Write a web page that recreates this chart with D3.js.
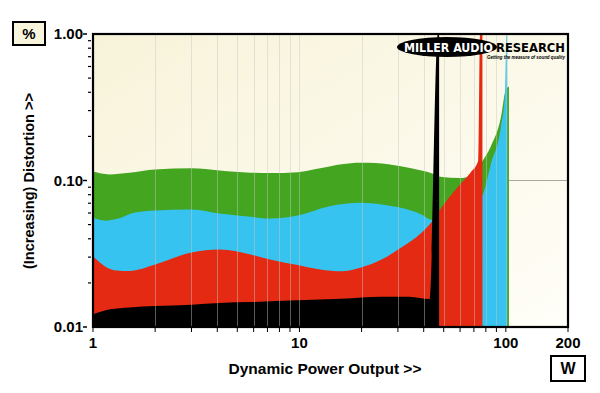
<!DOCTYPE html>
<html>
<head>
<meta charset="utf-8">
<script src="https://cdn.jsdelivr.net/npm/d3@7"></script>
<style>
  html, body { margin: 0; padding: 0; background: #fff; }
  svg { display: block; font-family: "Liberation Sans", Arial, sans-serif; }
</style>
</head>
<body>
<svg id="chart" width="600" height="393"></svg>
<script>
// distortion (%) vs dynamic power output (W), one curve per load; each ends in a clipping spike
var greenPts = [[1,0.115],[1.2,0.110],[1.5,0.113],[2,0.119],[3,0.121],[4.1,0.117],[5.8,0.113],[7.2,0.1125],
  [9.8,0.114],[12.6,0.121],[16,0.129],[19.7,0.132],[23.4,0.1316],[31,0.125],[39,0.117],[44,0.1116],[48,0.106],
  [60,0.104],[67.5,0.107],[72,0.115],[76.5,0.133],[84.6,0.171],[94.6,0.269],[100,0.418],[103.5,0.438]];
var bluePts = [[1,0.0556],[1.15,0.0532],[1.3,0.0545],[1.6,0.0605],[2,0.0624],[3,0.0634],[4.1,0.0595],[5.8,0.0565],
  [7.2,0.055],[9.8,0.0577],[14,0.0668],[19.7,0.0704],[25,0.0686],[31,0.0651],[39,0.0586],[44,0.0538],[48,0.0559],
  [60,0.0634],[70,0.0742],[76.5,0.0778],[84.6,0.129],[94.6,0.23],[99,0.386],[100.6,1.0],[101.6,1.0]];
var redPts = [[1,0.0304],[1.15,0.0258],[1.3,0.0243],[1.5,0.0241],[2,0.0267],[3,0.0323],[4.1,0.0338],[5.8,0.0313],
  [7.2,0.0289],[9.8,0.0265],[12.6,0.0247],[16,0.024],[19.7,0.0254],[25,0.0289],[31,0.0347],[39,0.044],[44,0.0527],
  [48,0.0634],[60,0.0939],[67.5,0.1134],[73.5,0.137],[75,1.0],[77,1.0]];
var blackPts = [[1,0.0122],[1.21,0.0132],[1.5,0.0136],[2,0.0139],[3,0.0142],[4.1,0.0146],[5.8,0.0148],[9.8,0.0152],
  [16,0.0156],[25,0.0161],[34,0.0161],[42.7,0.0155],[46.8,1.0],[47.5,1.0]];

var xTicks = [1, 10, 100, 200];
var xTickLabels = ["1", "10", "100", "200"];
var xMinor = [2,3,4,5,6,7,8,9,20,30,40,50,60,70,80,90];
var yTicks = [0.01, 0.1, 1];
var yTickLabels = ["0.01", "0.10", "1.00"];
var yMinor = [0.02,0.03,0.04,0.05,0.06,0.07,0.08,0.09,0.2,0.3,0.4,0.5,0.6,0.7,0.8,0.9];

var series = [
  { pts: greenPts, color: "#44a521" },
  { pts: bluePts, color: "#37c3ef" },
  { pts: redPts, color: "#e42a12" },
  { pts: blackPts, color: "#000000" }
];

var L = 93, R = 568, T = 34, B = 327;
var x = d3.scaleLog().domain([1, 200]).range([L, R]);
var y = d3.scaleLog().domain([0.01, 1]).range([B, T]);

var svg = d3.select("#chart");
var defs = svg.append("defs");
var grad = defs.append("linearGradient").attr("id", "bg")
  .attr("x1", 0).attr("y1", 0).attr("x2", 1).attr("y2", 1);
grad.append("stop").attr("offset", "0%").attr("stop-color", "#f7f3d9");
grad.append("stop").attr("offset", "100%").attr("stop-color", "#fffef8");
defs.append("clipPath").attr("id", "plotclip").append("rect")
  .attr("x", L).attr("y", T).attr("width", R - L).attr("height", B - T);

svg.append("rect").attr("x", L).attr("y", T).attr("width", R - L).attr("height", B - T)
  .attr("fill", "url(#bg)");

// horizontal grid at 0.10 (behind the fills)
svg.append("line").attr("x1", L).attr("x2", R).attr("y1", y(0.1)).attr("y2", y(0.1))
  .attr("stroke", "#a8a8a0").attr("stroke-width", 1.2);

var area = d3.area()
  .x(function (d) { return x(d[0]); })
  .y0(B)
  .y1(function (d) { return y(d[1]); })
  .curve(d3.curveMonotoneX);

var plot = svg.append("g").attr("clip-path", "url(#plotclip)");
series.forEach(function (s) {
  plot.append("path").attr("d", area(s.pts)).attr("fill", s.color);
});

// vertical grid, drawn over the fills
plot.selectAll("line.vg").data(xMinor.concat([10, 100])).enter().append("line")
  .attr("class", "vg")
  .attr("x1", function (d) { return Math.round(x(d)) + 0.5; })
  .attr("x2", function (d) { return Math.round(x(d)) + 0.5; })
  .attr("y1", T).attr("y2", B)
  .attr("stroke", "rgba(200,200,195,0.45)").attr("stroke-width", 1);

// frame
svg.append("rect").attr("x", L).attr("y", T).attr("width", R - L).attr("height", B - T)
  .attr("fill", "none").attr("stroke", "#000").attr("stroke-width", 2.2);

// x axis ticks and labels
svg.selectAll("line.xt").data(xMinor.concat(xTicks)).enter().append("line")
  .attr("x1", function (d) { return x(d); }).attr("x2", function (d) { return x(d); })
  .attr("y1", B + 1).attr("y2", B + 5)
  .attr("stroke", "#000").attr("stroke-width", 1);
svg.selectAll("text.xl").data(xTicks).enter().append("text")
  .attr("x", function (d) { return x(d); }).attr("y", B + 21)
  .attr("text-anchor", "middle").attr("font-size", 15).attr("font-weight", "bold")
  .text(function (d, i) { return xTickLabels[i]; });

// y axis ticks and labels
svg.selectAll("line.ym").data(yMinor).enter().append("line")
  .attr("x1", L - 5).attr("x2", L - 2)
  .attr("y1", function (d) { return y(d); }).attr("y2", function (d) { return y(d); })
  .attr("stroke", "#000").attr("stroke-width", 1.2);
svg.selectAll("line.yt").data(yTicks).enter().append("line")
  .attr("x1", L - 10).attr("x2", L - 6)
  .attr("y1", function (d) { return y(d); }).attr("y2", function (d) { return y(d); })
  .attr("stroke", "#000").attr("stroke-width", 1.5);
svg.selectAll("text.yl").data(yTicks).enter().append("text")
  .attr("x", L - 10).attr("y", function (d) { return y(d) + 5; })
  .attr("text-anchor", "end").attr("font-size", 15).attr("font-weight", "bold")
  .text(function (d, i) { return yTickLabels[i]; });

// axis titles
svg.append("text").attr("x", 325).attr("y", 374).attr("text-anchor", "middle")
  .attr("font-size", 15.5).attr("font-weight", "bold").text("Dynamic Power Output >>");
svg.append("text").attr("transform", "translate(34,181) rotate(-90)").attr("text-anchor", "middle")
  .attr("font-size", 15.5).attr("font-weight", "bold")
  .attr("textLength", 176).attr("lengthAdjust", "spacingAndGlyphs").text("(Increasing) Distortion >>");

// unit boxes
svg.append("rect").attr("x", 13).attr("y", 22).attr("width", 32).attr("height", 23)
  .attr("fill", "#f8f5dc").attr("stroke", "#000").attr("stroke-width", 2);
svg.append("text").attr("x", 29).attr("y", 39).attr("text-anchor", "middle")
  .attr("font-size", 15).attr("font-weight", "bold").text("%");
svg.append("rect").attr("x", 551).attr("y", 356).attr("width", 34).attr("height", 25)
  .attr("fill", "#fff").attr("stroke", "#000").attr("stroke-width", 2);
svg.append("text").attr("x", 568).attr("y", 374).attr("text-anchor", "middle")
  .attr("font-size", 16).attr("font-weight", "bold").text("W");

// logo
var logo = svg.append("g");
logo.append("ellipse").attr("cx", 447).attr("cy", 47).attr("rx", 50).attr("ry", 10).attr("fill", "#000");
logo.append("text").attr("x", 404).attr("y", 52).attr("fill", "#fff")
  .attr("font-family", "'DejaVu Sans Condensed', 'DejaVu Sans', sans-serif")
  .attr("font-size", 12.5).attr("font-weight", "bold")
  .attr("textLength", 89).attr("lengthAdjust", "spacingAndGlyphs").text("MILLER AUDIO");
logo.append("text").attr("x", 496).attr("y", 52).attr("fill", "#000")
  .attr("font-family", "'DejaVu Sans Condensed', 'DejaVu Sans', sans-serif")
  .attr("font-size", 12.5).attr("font-weight", "bold")
  .attr("textLength", 69).attr("lengthAdjust", "spacingAndGlyphs").text("RESEARCH");
logo.append("text").attr("x", 487).attr("y", 58.5).attr("fill", "#000")
  .attr("font-size", 5).attr("font-weight", "bold").attr("font-style", "italic")
  .attr("textLength", 78).attr("lengthAdjust", "spacingAndGlyphs")
  .text("Getting the measure of sound quality");
</script>
</body>
</html>
